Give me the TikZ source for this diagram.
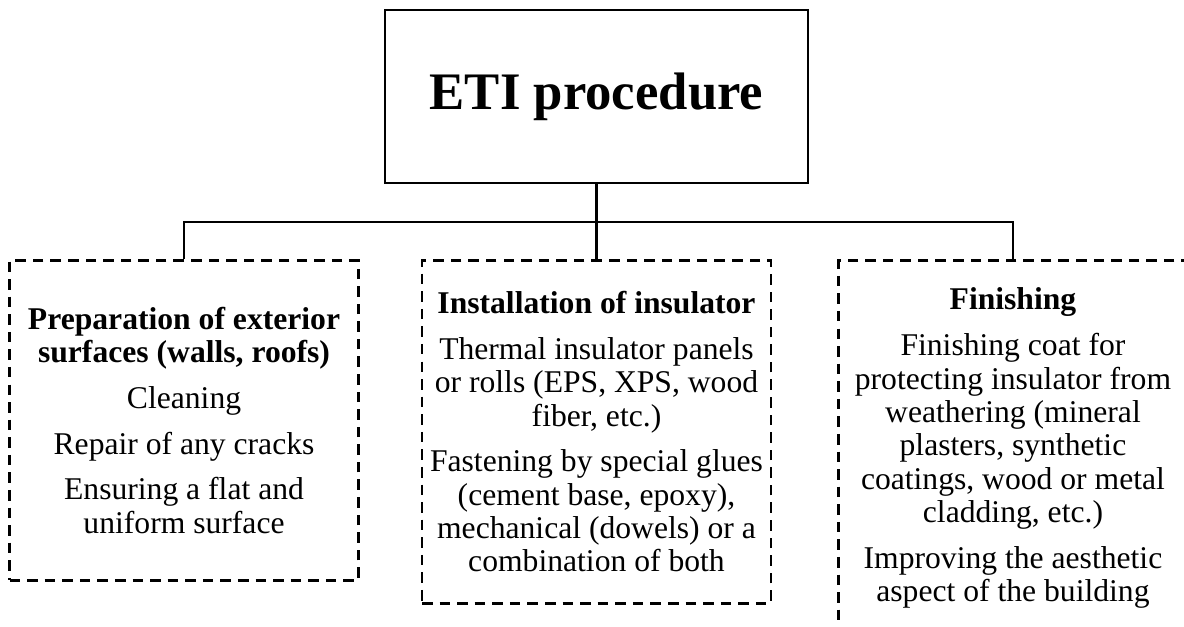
\documentclass[tikz,border=0pt]{standalone}
\usepackage{fontspec}
\setmainfont{Liberation Serif}
\usepackage{tikz}
\usetikzlibrary{positioning}

\begin{document}
\begin{tikzpicture}[
    mainbox/.style={rectangle, draw=black, line width=1.2pt, minimum width=8.46cm, minimum height=3.46cm, align=center, font=\fontsize{30}{34}\selectfont\bfseries},
    stepbox/.style={rectangle, draw=black, line width=1.4pt, dash pattern=on 6pt off 4pt, minimum width=6.98cm, align=center, inner sep=0pt, font=\fontsize{18}{19}\selectfont},
    link/.style={draw=black, line width=1.2pt}
]
    \useasboundingbox (0,0) rectangle (23.68,-12.54);
    \clip (0,0) rectangle (23.68,-12.54);

    \node[mainbox] (eti) at (11.93,-1.93) {ETI procedure};

    \node[stepbox, minimum height=6.86cm, below=1.5cm of eti] (inst) {\textbf{Installation of insulator}\\[7pt]
        Thermal insulator panels\\or rolls (EPS, XPS, wood\\fiber, etc.)\\[7pt]
        Fastening by special glues\\(cement base, epoxy),\\mechanical (dowels) or a\\combination of both};
    \node[stepbox, minimum height=6.4cm, left=1.22cm of inst.north west, anchor=north east] (prep) {\textbf{Preparation of exterior}\\\textbf{surfaces (walls, roofs)}\\[7pt]
        Cleaning\\[7pt]Repair of any cracks\\[7pt]Ensuring a flat and\\uniform surface};
    \node[stepbox, minimum height=7.52cm, right=1.3cm of inst.north east, anchor=north west] (fin) {\textbf{Finishing}\\[7pt]
        Finishing coat for\\protecting insulator from\\weathering (mineral\\plasters, synthetic\\coatings, wood or metal\\cladding, etc.)\\[7pt]
        Improving the aesthetic\\aspect of the building};

    \draw[link] (eti.south) -- (inst.north);
    \draw[link] (eti.south) -- ++(0,-0.76) -| (prep.north);
    \draw[link] (eti.south) -- ++(0,-0.76) -| (fin.north);
\end{tikzpicture}
\end{document}
